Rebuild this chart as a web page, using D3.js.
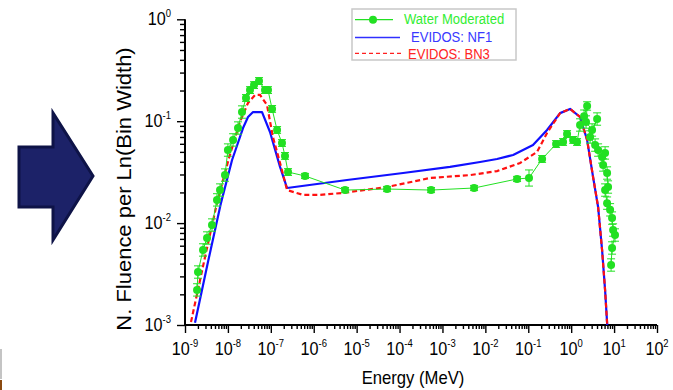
<!DOCTYPE html>
<html><head><meta charset="utf-8">
<script src="https://cdn.jsdelivr.net/npm/d3@7"></script>
<style>
body{margin:0;background:#fff}
svg{display:block}
text{font-family:"Liberation Sans",Arial,sans-serif}
</style>
</head><body>
<svg id="c" width="673" height="390"></svg>
<script>
// ---------- data ----------
const xTickExps = [-9,-8,-7,-6,-5,-4,-3,-2,-1,0,1,2];
const yTickExps = [-3,-2,-1,0];
const xTitle = "Energy (MeV)";
const yTitle = "N. Fluence per Ln(Bin Width)";
const legendLabels = ["Water Moderated","EVIDOS: NF1","EVIDOS: BN3"];

const waterE = [1.91e-9,2.01e-9,2.63e-9,3.26e-9,4.26e-9,5.57e-9,6.55e-9,8.55e-9,1.00e-8,1.32e-8,1.72e-8,2.13e-8,
  2.64e-8,3.27e-8,4.06e-8,5.31e-8,7.33e-8,8.61e-8,1.07e-7,1.40e-7,1.82e-7,2.14e-7,2.52e-7,
  6.27e-7,5.37e-6,5.12e-5,5.42e-4,5.46e-3,0.0548,
  0.104,0.210,0.445,0.647,0.802,1.11,1.37,
  1.61,2.00,2.35,2.22,3.07,4.02,2.76,3.61,4.24,5.25,6.17,5.55,6.87,7.24,6.17,6.87,8.07,8.97,9.48,10.5,8.97,8.51];
const waterV = [0.00221,0.00331,0.00545,0.00714,0.00957,0.0169,0.0211,0.0296,0.0521,0.0655,0.0857,0.123,
  0.169,0.202,0.226,0.248,0.202,0.202,0.132,0.0820,0.0611,0.0456,0.0317,
  0.0290,0.0211,0.0216,0.0211,0.0221,0.0271,
  0.0277,0.0426,0.0597,0.0625,0.0748,0.0655,0.0625,
  0.0918,0.112,0.141,0.0982,0.0820,0.105,0.0700,0.0583,0.0521,0.0446,0.0488,0.0372,0.0310,0.0226,0.0211,0.0157,0.0135,0.0112,0.00855,0.00764,0.00570,0.00388];
const waterErr = [0.15,0.15,0.15,0.15,0.15,0.15,0.15,0.15,0.15,0.15,0.15,0.15,
  0.08,0.08,0.08,0.08,0.08,0.08,0.08,0.08,0.08,0.08,0.08,
  0.06,0.06,0.06,0.06,0.06,0.06,
  0.2,0.08,0.08,0.08,0.08,0.08,0.08,
  0.15,0.15,0.1,0.15,0.15,0.15,0.15,0.15,0.15,0.15,0.15,0.15,0.15,0.15,0.15,0.15,0.15,0.15,0.15,0.15,0.15,0.15];

const nf1E = [1.71e-9,3.44e-9,6.90e-9,1.25e-8,2.25e-8,2.94e-8,3.85e-8,6.24e-8,9.57e-8,1.64e-7,2.39e-7,
  5.97e-6,1.21e-4,1.50e-3,7.52e-3,0.0187,0.0443,0.129,0.274,0.551,0.942,1.61,2.35,3.24,4.24,5.25,6.17,6.87,7.1];
const nf1V = [0.00105,0.00417,0.0158,0.0416,0.0857,0.110,0.123,0.123,0.0783,0.0356,0.0221,
  0.0265,0.0310,0.0356,0.0398,0.0426,0.0466,0.0583,0.0820,0.120,0.132,0.110,0.0655,0.0283,0.0144,0.00545,0.00220,0.00105,0.0008];

const bn3E = [1.38e-9,2.77e-9,5.57e-9,1.06e-8,1.91e-8,2.94e-8,4.29e-8,5.60e-8,8.15e-8,1.12e-7,1.64e-7,2.39e-7,
  5.64e-7,1.40e-6,4.82e-6,5.12e-5,5.14e-4,4.40e-3,0.0187,0.0644,0.160,0.274,0.551,0.942,1.61,2.35,3.24,4.24,5.25,6.17,6.87,7.1];
const bn3V = [0.00107,0.00417,0.0158,0.0436,0.0982,0.151,0.181,0.181,0.144,0.0700,0.0389,0.0211,
  0.0189,0.0189,0.0198,0.0226,0.0277,0.0296,0.0324,0.0389,0.0499,0.0766,0.120,0.132,0.110,0.0655,0.0283,0.0144,0.00545,0.00220,0.00105,0.0008];

// ---------- chart ----------
const svg = d3.select("#c");
const SX = 0.9; // horizontal text compression of the source picture
const x = d3.scaleLog().domain([1e-9, 1e2]).range([185, 657]);
const y = d3.scaleLog().domain([1e-3, 1]).range([325, 19.3]);

// decorative slide arrow
svg.append("path")
  .attr("d","M19,147H53V113L93,176L53,240V207H19Z")
  .attr("fill","#1c2268").attr("stroke","#0e1347").attr("stroke-width",3).attr("stroke-linejoin","miter");
// slide edge bits
svg.append("rect").attr("x",0).attr("y",349).attr("width",2).attr("height",30).attr("fill","#c4c4c4");
svg.append("rect").attr("x",0).attr("y",380).attr("width",2).attr("height",10).attr("fill","#8a4a10");

svg.append("clipPath").attr("id","clip").append("rect")
  .attr("x",185).attr("y",19.3).attr("width",472).attr("height",305.7);

// axes
const minorX = [], minorY = [];
for (let e = -9; e < 2; e++) for (let k = 2; k < 10; k++) minorX.push(k * Math.pow(10, e));
for (let e = -3; e < 0; e++) for (let k = 2; k < 10; k++) minorY.push(k * Math.pow(10, e));

function styleAxis(g){
  g.select(".domain").remove();
  g.selectAll(".tick line").attr("stroke","#000").attr("stroke-width",1.4);
}
const gx = svg.append("g").attr("transform","translate(0,325)");
gx.append("g").call(d3.axisBottom(x).tickValues(minorX).tickSize(4).tickFormat("")).call(styleAxis);
gx.append("g").call(d3.axisBottom(x).tickValues(xTickExps.map(e=>Math.pow(10,e))).tickSize(8).tickFormat("")).call(styleAxis);
const gy = svg.append("g").attr("transform","translate(185,0)");
gy.append("g").call(d3.axisLeft(y).tickValues(minorY).tickSize(5).tickFormat("")).call(styleAxis);
gy.append("g").call(d3.axisLeft(y).tickValues(yTickExps.map(e=>Math.pow(10,e))).tickSize(8).tickFormat("")).call(styleAxis);
svg.append("line").attr("x1",185).attr("x2",x(1e2)).attr("y1",325).attr("y2",325).attr("stroke","#000").attr("stroke-width",2);
svg.append("line").attr("x1",185).attr("x2",185).attr("y1",y(1e-3)+1).attr("y2",y(1)).attr("stroke","#000").attr("stroke-width",2);

// tick labels
xTickExps.forEach(e=>{
  const t = svg.append("text").attr("transform",`translate(${x(Math.pow(10,e))},355) scale(${SX},1)`)
    .attr("text-anchor","middle").attr("font-size",18).attr("fill","#000");
  t.append("tspan").text("10");
  t.append("tspan").attr("dy",-8.5).attr("font-size",10.5).text(e);
});
yTickExps.forEach(e=>{
  const t = svg.append("text").attr("transform",`translate(171,${y(Math.pow(10,e))+6}) scale(${SX},1)`)
    .attr("text-anchor","end").attr("font-size",18).attr("fill","#000");
  t.append("tspan").text("10");
  t.append("tspan").attr("dy",-8.5).attr("font-size",10.5).text(e);
});

// titles
svg.append("text").attr("transform",`translate(413,384) scale(${SX},1)`).attr("text-anchor","middle")
  .attr("font-size",18.5).text(xTitle);
svg.append("text").attr("transform",`translate(131,189) scale(${SX},1) rotate(-90)`).attr("text-anchor","middle")
  .attr("font-size",22).text(yTitle);

// curves
const plot = svg.append("g").attr("clip-path","url(#clip)");
const line = d3.line().x(d=>x(d[0])).y(d=>y(d[1]));
plot.append("path").datum(d3.zip(nf1E,nf1V)).attr("d",line)
  .attr("fill","none").attr("stroke","#1010ff").attr("stroke-width",2.2).attr("stroke-linejoin","round");
plot.append("path").datum(d3.zip(bn3E,bn3V)).attr("d",line)
  .attr("fill","none").attr("stroke","#ff1010").attr("stroke-width",2.2).attr("stroke-dasharray","5,3");

const GREEN = "#22e022";
const water = d3.zip(waterE,waterV,waterErr);
plot.append("path").datum(water).attr("d",line)
  .attr("fill","none").attr("stroke",GREEN).attr("stroke-width",1);
const eb = plot.append("g").attr("stroke",GREEN).attr("stroke-width",1);
water.forEach(d=>{
  const cx = x(d[0]), y1 = y(d[1]*(1+d[2])), y2 = y(d[1]/(1+d[2]));
  eb.append("line").attr("x1",cx).attr("x2",cx).attr("y1",y1).attr("y2",y2);
  eb.append("line").attr("x1",cx-4).attr("x2",cx+4).attr("y1",y1).attr("y2",y1);
  eb.append("line").attr("x1",cx-4).attr("x2",cx+4).attr("y1",y2).attr("y2",y2);
});
plot.append("g").selectAll("circle").data(water).join("circle")
  .attr("cx",d=>x(d[0])).attr("cy",d=>y(d[1])).attr("r",4).attr("fill",GREEN);

// legend
const lg = svg.append("g");
lg.append("rect").attr("x",352).attr("y",9).attr("width",164).attr("height",51)
  .attr("fill","#fff").attr("stroke","#c8c8c8").attr("stroke-width",1.5);
lg.append("line").attr("x1",355).attr("x2",393).attr("y1",19.7).attr("y2",19.7).attr("stroke",GREEN).attr("stroke-width",1.2);
lg.append("circle").attr("cx",373).attr("cy",19.7).attr("r",4).attr("fill",GREEN);
lg.append("line").attr("x1",355).attr("x2",400).attr("y1",37.5).attr("y2",37.5).attr("stroke","#3030ff").attr("stroke-width",1.5);
lg.append("line").attr("x1",355).attr("x2",402).attr("y1",53.3).attr("y2",53.3).attr("stroke","#ff2020").attr("stroke-width",1.2).attr("stroke-dasharray","4,3");
const legX = [404,411,408], legY = [24,41.7,59], legC = ["#33ee33","#3838ff","#ff2424"];
legendLabels.forEach((s,i)=>{
  lg.append("text").attr("transform",`translate(${legX[i]},${legY[i]}) scale(${SX},1)`)
    .attr("font-size",14.5).attr("fill",legC[i]).text(s);
});
</script>
</body></html>
